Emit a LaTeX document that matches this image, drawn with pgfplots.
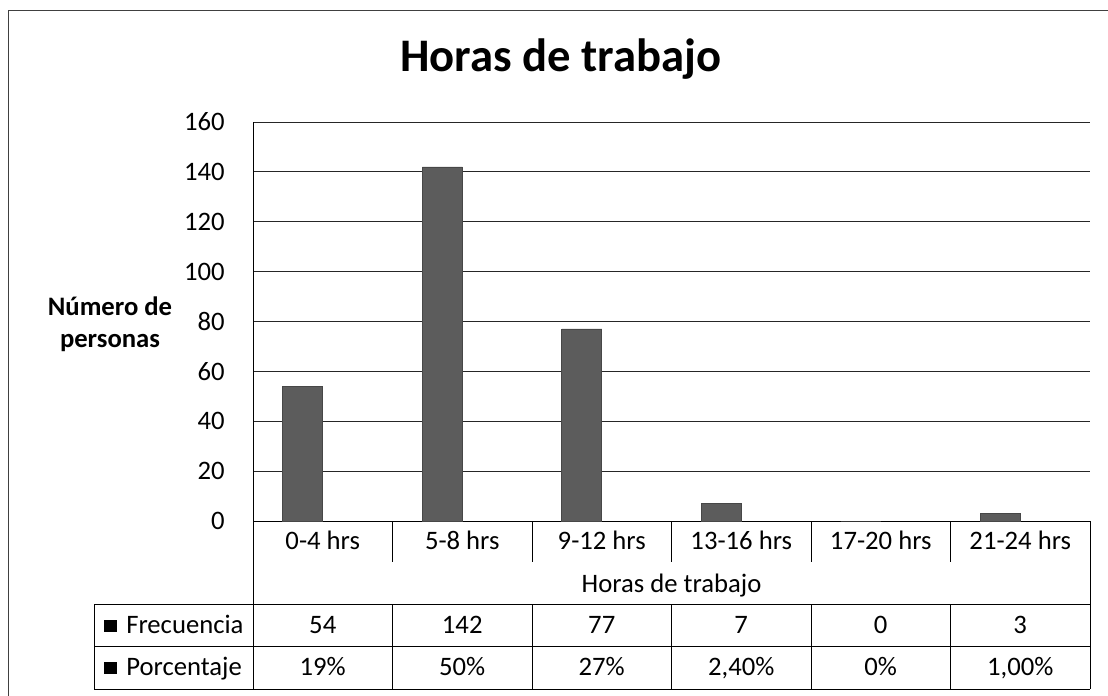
\documentclass[border=0pt]{standalone}
\usepackage{pgfplots}
\pgfplotsset{compat=1.18}
\usepackage{fontspec}
\setmainfont{Carlito}

\pgfplotstableread{
x freq pct
0.5 54 0.19
1.5 142 0.50
2.5 77 0.27
3.5 7 0.024
4.5 0 0
5.5 3 0.01
}\datatable

\newcommand{\lbl}{\fontsize{20}{24}\selectfont}

\begin{document}
\begin{tikzpicture}[x=0.75pt,y=-0.75pt]
\path[use as bounding box] (0,0) rectangle (1108,696);
\fill[white] (0,0) rectangle (1108,696);
% outer chart frame
\draw[black!75,line width=0.75pt] (8,696) -- (8,10) -- (1108,10);
% title
\node[anchor=base,inner sep=0pt] at (561,71) {\bfseries\fontsize{35}{42}\selectfont Horas de trabajo};
% y label
\node[align=center,inner sep=0pt,font=\bfseries\lbl] at (110,324) {Número de\\[0pt]personas};

\coordinate (O) at (253,521);
\begin{axis}[
  at={(O)}, anchor=south west,
  scale only axis, width=627.75pt, height=299.25pt,
  xmin=0, xmax=6, ymin=0, ymax=160,
  ytick={0,20,...,160},
  xtick={0.5,1.5,2.5,3.5,4.5,5.5},
  xticklabels={0-4 hrs,5-8 hrs,9-12 hrs,13-16 hrs,17-20 hrs,21-24 hrs},
  axis x line*=bottom, axis y line*=left,
  axis line style={-, black, line width=0.75pt},
  major tick length=0pt,
  ymajorgrids, major grid style={black!85, line width=0.75pt},
  tick label style={font=\lbl},
  /pgf/number format/assume math mode=true,
  yticklabel style={anchor=east, inner sep=0pt, xshift=-21pt},
  xticklabel style={anchor=base, inner sep=0pt, yshift=-21pt},
  ybar, bar width=30pt,
  clip=false,
]
\addplot[fill=black!64, draw=black!72, line width=0.4pt, bar shift=-15pt] table[x=x,y=freq] {\datatable};
\end{axis}

% data table
\begin{scope}[black, line width=0.75pt]
\foreach \k in {1,...,5} {
  \draw ({253+\k*139.5},521) -- ({253+\k*139.5},562);
  \draw ({253+\k*139.5},604) -- ({253+\k*139.5},689);
}
\draw (253,521) -- (253,689);
\draw (1090,521) -- (1090,689);
\draw (94,604) -- (1090,604);
\draw (94,646) -- (1090,646);
\draw (94,689) -- (1090,689);
\draw (94,604) -- (94,689);
\end{scope}

\node[anchor=base,inner sep=0pt,font=\lbl] at (671.5,592) {Horas de trabajo};

\fill[black] (104,620) rectangle (117,632);
\node[anchor=base west,inner sep=0pt,font=\lbl] at (126,633) {Frecuencia};
\fill[black] (104,662) rectangle (117,674);
\node[anchor=base west,inner sep=0pt,font=\lbl] at (126,675) {Porcentaje};

\foreach \v [count=\i from 0] in {54,142,77,7,0,3} {
  \node[anchor=base,inner sep=0pt,font=\lbl] at ({322.75+\i*139.5},633) {\v};
}
\foreach \v [count=\i from 0] in {19\%,50\%,27\%,{2,40\%},0\%,{1,00\%}} {
  \node[anchor=base,inner sep=0pt,font=\lbl] at ({322.75+\i*139.5},675) {\v};
}
\end{tikzpicture}
\end{document}
